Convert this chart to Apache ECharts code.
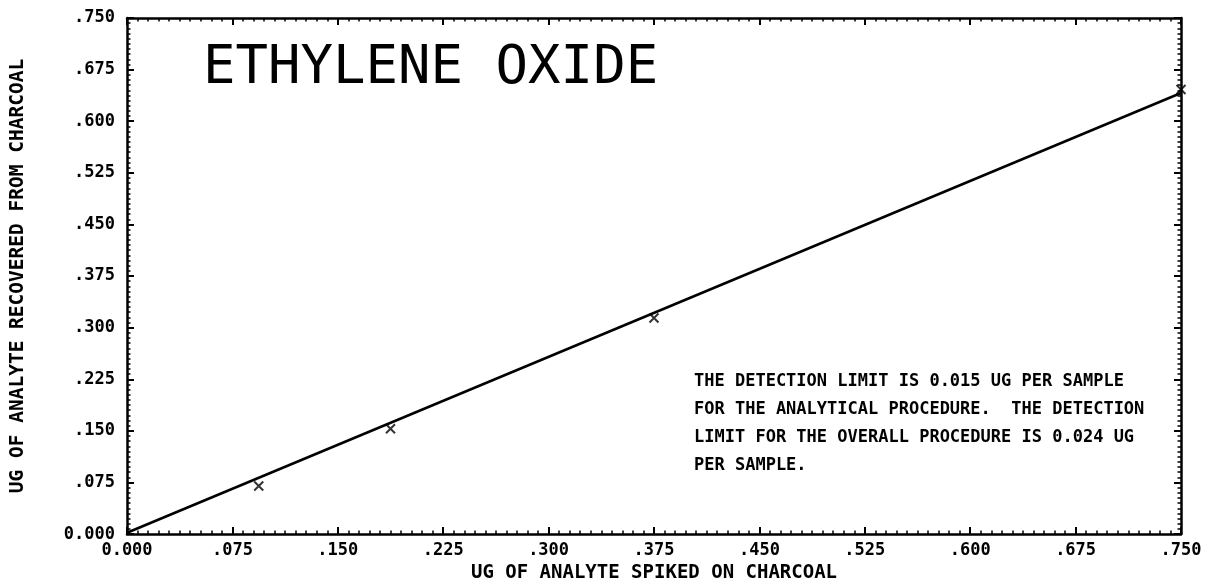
<!DOCTYPE html>
<html>
<head>
<meta charset="utf-8">
<script src="https://cdn.jsdelivr.net/npm/echarts@6/dist/echarts.min.js"></script>
<style>
  html, body { margin: 0; padding: 0; background: #fff; }
  #chart { width: 1208px; height: 588px; }
</style>
</head>
<body>
<div id="chart"></div>
<script>
// spiked vs recovered amounts (ug)
var spikedX = [0.09375, 0.1875, 0.375, 0.75];
var recoveredY = [0.070, 0.153, 0.314, 0.646];
// fitted line end points
var fitX = [0.0, 0.75];
var fitY = [0.002, 0.641];
var tickLabels = ['0.000', '.075', '.150', '.225', '.300', '.375', '.450', '.525', '.600', '.675', '.750'];
var noteLines = [
    'THE DETECTION LIMIT IS 0.015 UG PER SAMPLE',
    'FOR THE ANALYTICAL PROCEDURE.  THE DETECTION',
    'LIMIT FOR THE OVERALL PROCEDURE IS 0.024 UG',
    'PER SAMPLE.'
];

var FONT = '"DejaVu Sans Mono", monospace';

function fmt(v) {
    return tickLabels[Math.round(v / 0.075)] || '';
}

function makeAxis(pos, showLabels, name) {
    var vertical = pos === 'left' || pos === 'right';
    return {
        type: 'value',
        position: pos,
        min: 0,
        max: 0.75,
        interval: 0.075,
        name: name || '',
        nameLocation: 'middle',
        nameGap: vertical ? 99 : 29,
        nameTextStyle: {
            color: '#000', fontFamily: FONT, fontWeight: 'bold',
            fontSize: vertical ? 19.5 : 19
        },
        axisLine: { show: true, onZero: false, lineStyle: { color: '#000', width: 2.5 } },
        axisTick: { show: true, inside: true, length: 7, lineStyle: { color: '#000', width: 2 } },
        minorTick: { show: true, splitNumber: 10, length: 3.5, lineStyle: { color: '#000', width: 1.5 } },
        splitLine: { show: false },
        axisLabel: {
            show: showLabels,
            formatter: fmt,
            color: '#000',
            fontFamily: FONT,
            fontWeight: 'bold',
            fontSize: 17,
            margin: vertical ? 12 : 8
        }
    };
}

var chart = echarts.init(document.getElementById('chart'), null, { renderer: 'canvas' });

var option = {
    animation: false,
    backgroundColor: '#fff',
    grid: { left: 122, right: 27, top: 18, bottom: 46, containLabel: false },
    xAxis: [
        makeAxis('bottom', true, 'UG OF ANALYTE SPIKED ON CHARCOAL'),
        makeAxis('top', false)
    ],
    yAxis: [
        makeAxis('left', true, 'UG OF ANALYTE RECOVERED FROM CHARCOAL'),
        makeAxis('right', false)
    ],
    graphic: [
        {
            type: 'text',
            left: 203,
            top: 42,
            style: {
                text: 'ETHYLENE OXIDE',
                fill: '#000',
                font: 'normal 54px ' + FONT
            }
        },
        {
            type: 'text',
            left: 694,
            top: 368,
            style: {
                text: noteLines.join('\n'),
                fill: '#000',
                font: 'bold 17px ' + FONT,
                lineHeight: 28
            }
        }
    ],
    series: [
        {
            type: 'line',
            data: fitX.map(function (x, i) { return [x, fitY[i]]; }),
            showSymbol: false,
            lineStyle: { color: '#000', width: 2.5 },
            z: 3
        },
        {
            type: 'scatter',
            data: spikedX.map(function (x, i) { return [x, recoveredY[i]]; }),
            symbol: 'path://M0,0L10,10M10,0L0,10',
            symbolSize: 9,
            itemStyle: { color: 'none', borderColor: '#000', borderWidth: 2 },
            z: 4
        }
    ]
};

chart.setOption(option);
</script>
</body>
</html>
